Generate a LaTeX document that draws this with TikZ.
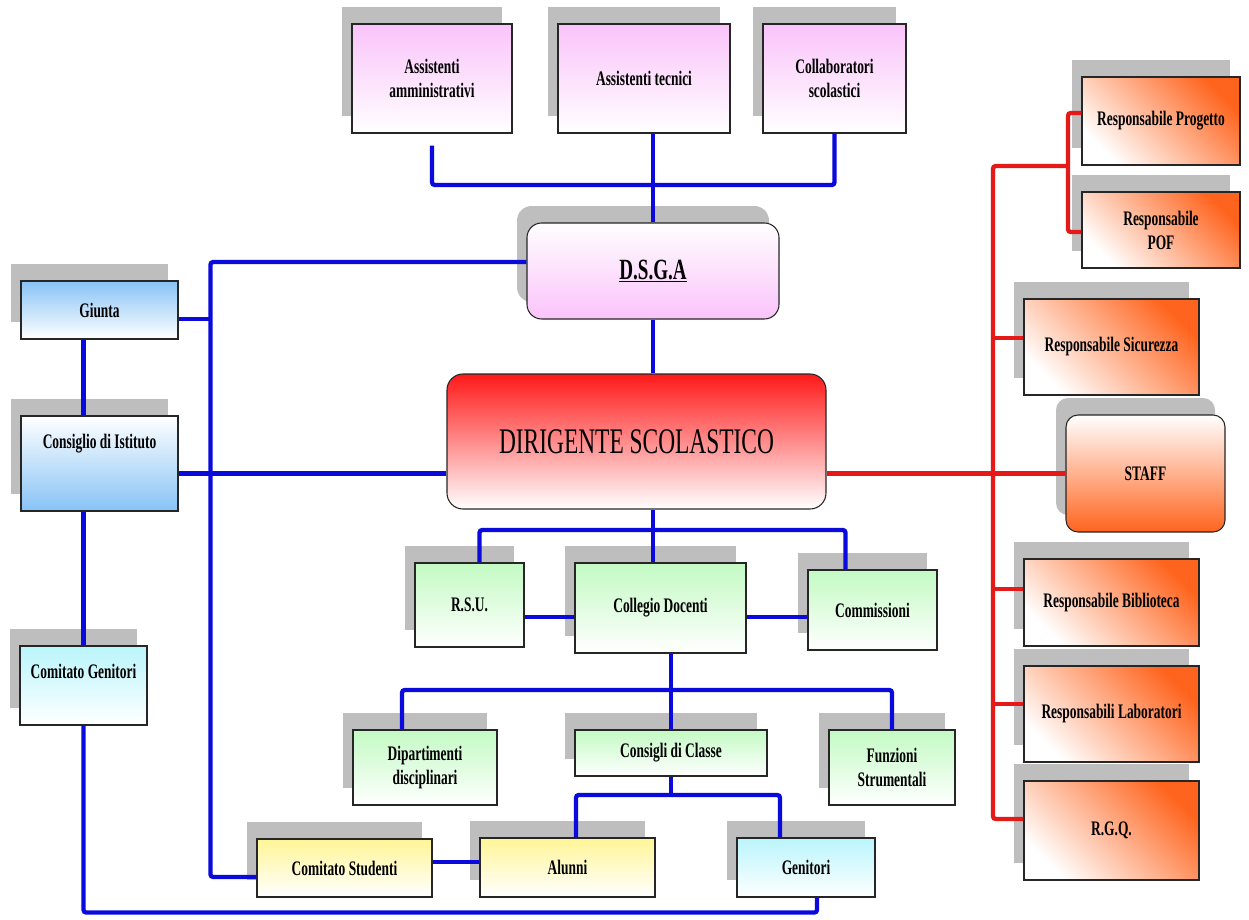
\documentclass[tikz,border=0pt]{standalone}
\usepackage{fontspec}
\setmainfont{Liberation Serif}[FakeStretch=0.65]
\usetikzlibrary{calc}
\usetikzlibrary{shadows}

\definecolor{pinkA}{RGB}{250,195,250}
\definecolor{blueA}{RGB}{135,195,245}
\definecolor{cyanA}{RGB}{185,245,252}
\definecolor{greenA}{RGB}{195,250,195}
\definecolor{yellowA}{RGB}{255,245,150}
\definecolor{orangeA}{RGB}{255,100,30}
\definecolor{redA}{RGB}{255,25,25}
\definecolor{lineblue}{RGB}{10,10,220}
\definecolor{linered}{RGB}{230,25,25}
\definecolor{shadowgray}{RGB}{190,190,190}

\begin{document}
\begin{tikzpicture}[
    x=0.75pt, y=-0.75pt,
    every node/.style={font=\fontsize{15.5}{18}\selectfont\bfseries},
    box/.style={rectangle, draw=black!85, line width=0.8pt, inner sep=0pt, align=center,
        drop shadow={shadow xshift=-7.5pt, shadow yshift=12.75pt, fill=shadowgray, opacity=1}},
    pinkbox/.style={box, top color=pinkA, bottom color=white},
    bluebox/.style={box, top color=blueA, bottom color=white},
    cyanbox/.style={box, top color=cyanA, bottom color=white},
    greenbox/.style={box, top color=greenA, bottom color=white},
    yellowbox/.style={box, top color=yellowA, bottom color=white},
    orangebox/.style={box, top color=orangeA, bottom color=white, shading angle=-45},
    blueline/.style={draw=lineblue, line width=3.2pt, rounded corners=2pt},
    redline/.style={draw=linered, line width=3.2pt, rounded corners=2pt}
]
\fill[white] (0,0) rectangle (1249,920);
\useasboundingbox (0,0) rectangle (1249,920);

% Nodes
\node[pinkbox, minimum width=120pt, minimum height=81.75pt] (aa) at (432,78.5) {Assistenti\\amministrativi};
\node[pinkbox, minimum width=129pt, minimum height=81.75pt] (at) at (644,78.5) {Assistenti tecnici};
\node[pinkbox, minimum width=107.25pt, minimum height=81.75pt] (cs) at (834.5,78.5) {Collaboratori\\scolastici};
\node[box, rounded corners=11pt, top color=white, bottom color=pinkA, minimum width=189pt, minimum height=72pt,
    font=\fontsize{22}{26}\selectfont\bfseries] (dsga) at (653,271) {\underline{D.S.G.A}};
\node[rectangle, rounded corners=12pt, draw=black!85, line width=0.8pt, top color=redA, bottom color=white,
    minimum width=284.25pt, minimum height=101.25pt, font=\fontsize{27}{30}\selectfont] (dir) at (636.5,441.5) {DIRIGENTE SCOLASTICO};

\node[bluebox, minimum width=117.75pt, minimum height=43.5pt] (giunta) at (99.5,310) {Giunta};
\node[box, top color=white, bottom color=blueA, minimum width=117.75pt, minimum height=71.25pt, text depth=34pt] (ci) at (99.5,463.5) {Consiglio di Istituto};
\node[cyanbox, minimum width=95.25pt, minimum height=59.25pt, text depth=22pt] (cg) at (83.5,685.5) {Comitato Genitori};

\node[greenbox, minimum width=81.75pt, minimum height=63pt] (rsu) at (469.5,605) {R.S.U.};
\node[greenbox, minimum width=128.25pt, minimum height=67.5pt] (coll) at (660.5,608) {Collegio Docenti};
\node[greenbox, minimum width=96.75pt, minimum height=60pt] (comm) at (872.5,610) {Commissioni};
\node[greenbox, minimum width=108pt, minimum height=56.25pt] (dip) at (425,767.5) {Dipartimenti\\disciplinari};
\node[greenbox, minimum width=144pt, minimum height=34.5pt] (ccl) at (671,753) {Consigli di Classe};
\node[greenbox, minimum width=94.5pt, minimum height=56.25pt] (fun) at (892,767.5) {Funzioni\\Strumentali};

\node[yellowbox, minimum width=131.25pt, minimum height=43.5pt] (cstud) at (344.5,868) {Comitato Studenti};
\node[yellowbox, minimum width=131.25pt, minimum height=44.25pt] (alu) at (567.5,867.5) {Alunni};
\node[cyanbox, minimum width=103.5pt, minimum height=44.25pt] (gen) at (806,867.5) {Genitori};

\node[orangebox, minimum width=118.5pt, minimum height=66pt] (rprog) at (1161,121) {Responsabile Progetto};
\node[orangebox, minimum width=118.5pt, minimum height=57pt] (rpof) at (1161,230) {Responsabile\\POF};
\node[orangebox, minimum width=131.25pt, minimum height=72pt] (rsic) at (1111.5,347) {Responsabile Sicurezza};
\node[box, rounded corners=9pt, top color=white, bottom color=orangeA, minimum width=119.25pt, minimum height=87.75pt] (staff) at (1145.5,473.5) {STAFF};
\node[orangebox, minimum width=131.25pt, minimum height=65.25pt] (rbib) at (1111.5,602.5) {Responsabile Biblioteca};
\node[orangebox, minimum width=131.25pt, minimum height=72pt] (rlab) at (1111.5,714) {Responsabili Laboratori};
\node[orangebox, minimum width=131.25pt, minimum height=74.25pt] (rgq) at (1111.5,830.5) {R.G.Q.};

\coordinate (topbus) at (653,185);
\coordinate (cbus) at (653,530);
\coordinate (dbus) at (671,690);
\coordinate (ebus) at (671,795);
\coordinate (rbus) at (993,166);

% Edges
\draw[blueline] ($(aa.south)+(0,12)$) |- (topbus) -| (cs.south);
\draw[blueline] (at.south -| dsga.north) -- (dsga.north);
\draw[blueline] (dsga.south) -- (dsga.south |- dir.north);
\draw[blueline] ($(dsga.west)+(0,-9)$) -| ($(cstud.west)+(-46,9)$) -- ($(cstud.west)+(0,9)$);
\draw[blueline] ($(giunta.east)+(0,9)$) -- ++(33,0);
\draw[blueline] ($(ci.east)+(0,10)$) -- ($(dir.west)+(0,32)$);
\draw[blueline] (giunta.south -| cg.north) -- (ci.north -| cg.north);
\draw[blueline] (ci.south -| cg.north) -- (cg.north);
\draw[blueline] (cg.south) -- ++(0,187) -| ($(gen.south)+(11,0)$);
\draw[blueline] (dir.south -| cbus) -- (cbus |- coll.north);
\draw[blueline] ($(rsu.north)+(10,0)$) |- (cbus) -| ($(comm.north)+(-27,0)$);
\draw[blueline] ($(rsu.east)+(0,12)$) -- ($(coll.west)+(0,9)$);
\draw[blueline] ($(coll.east)+(0,9)$) -- ($(comm.west)+(0,7)$);
\draw[blueline] (coll.south -| dbus) -- (ccl.north -| dbus);
\draw[blueline] ($(dip.north)+(-23,0)$) |- (dbus) -| (fun.north);
\draw[blueline] (ccl.south -| ebus) -- (ebus);
\draw[blueline] ($(alu.north)+(8.5,0)$) |- (ebus) -| ($(gen.north)+(-26,0)$);
\draw[blueline] ($(cstud.east)+(0,-6)$) -- ($(alu.west)+(0,-5.5)$);

\draw[redline] ($(dir.east)+(0,32)$) -- (staff.west);
\draw[redline] ($(rgq.west)+(0,-11.5)$) -| (rbus) -- ++(75,0);
\draw[redline] ($(rprog.west)+(0,-8)$) -| ($(rbus)+(75,0)$) |- ($(rpof.west)+(0,2)$);
\draw[redline] ($(rsic.west)+(0,-9)$) -- ++(-31,0);
\draw[redline] ($(rbib.west)+(0,-13.5)$) -- ++(-31,0);
\draw[redline] ($(rlab.west)+(0,-10)$) -- ++(-31,0);

\end{tikzpicture}
\end{document}
